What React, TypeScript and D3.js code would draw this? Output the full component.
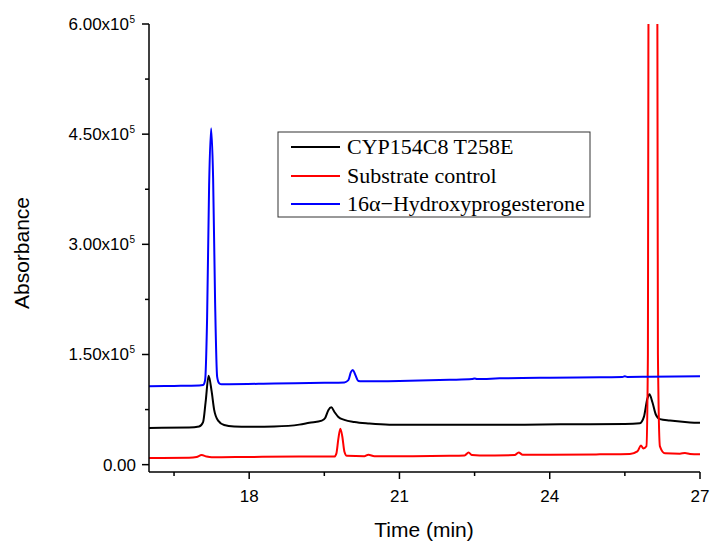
import React from "react";
import * as d3 from "d3";

// Time (min) / absorbance pairs
const blackSeries: [number, number][] = [
  [16.0, 50000], [16.8, 50500], [17.0, 52000], [17.08, 58000], [17.13, 85000],
  [17.19, 121000], [17.25, 100000], [17.3, 75000], [17.38, 60000], [17.5, 54000],
  [17.7, 52000], [18.0, 51500], [18.5, 52000], [19.0, 54500], [19.2, 57000],
  [19.45, 60000], [19.52, 64000], [19.58, 74000], [19.64, 78000], [19.7, 72000],
  [19.78, 65000], [19.9, 61000], [20.1, 58000], [20.4, 56000], [20.8, 54500],
  [21.5, 54200], [22.5, 54200], [23.5, 54500], [24.5, 55000], [25.5, 55500],
  [25.8, 56500], [25.88, 65000], [25.95, 90000], [25.99, 96000], [26.05, 85000],
  [26.12, 68000], [26.2, 62000], [26.4, 60000], [26.8, 57500], [27.0, 57000],
];

const redSeries: [number, number][] = [
  [16.0, 9000], [16.8, 9500], [16.95, 10500], [17.05, 13000], [17.15, 11000],
  [17.25, 10000], [18.0, 10500], [19.0, 11000], [19.7, 11000], [19.74, 15000],
  [19.78, 35000], [19.82, 49000], [19.86, 38000], [19.9, 18000], [19.95, 12000],
  [20.3, 11500], [20.38, 13500], [20.5, 11500], [21.0, 11500], [22.0, 12000],
  [22.3, 12500], [22.38, 16500], [22.45, 13000], [22.6, 12500], [23.3, 13000],
  [23.38, 16500], [23.46, 13500], [24.0, 13500], [25.0, 14000], [25.6, 14500],
  [25.75, 18000], [25.82, 26000], [25.87, 22000], [25.93, 25000], [25.96, 150000],
  [25.99, 1500000], [26.06, 3000000], [26.13, 1500000], [26.16, 150000], [26.2, 25000],
  [26.3, 15500], [26.6, 15000], [26.7, 15800], [26.8, 14500], [27.0, 14000],
];

const blueSeries: [number, number][] = [
  [16.0, 106800], [16.5, 107200], [17.0, 107800], [17.08, 108500], [17.12, 115000],
  [17.16, 200000], [17.2, 380000], [17.24, 458000], [17.28, 390000], [17.32, 220000],
  [17.36, 120000], [17.4, 111000], [17.45, 109500], [17.6, 109500], [18.5, 110500],
  [19.5, 111500], [19.9, 112000], [19.98, 115000], [20.03, 126000], [20.07, 129000],
  [20.12, 122000], [20.18, 114000], [20.25, 113500], [21.0, 114000], [22.0, 115500],
  [22.45, 116500], [22.5, 117300], [22.55, 116500], [23.0, 117500], [24.0, 118500],
  [25.0, 119000], [25.45, 119300], [25.5, 120300], [25.55, 119500], [26.0, 119800],
  [27.0, 120500],
];

const seriesNames = ["CYP154C8 T258E", "Substrate control", "16α−Hydroxyprogesterone"];
const seriesColors = ["#000000", "#ff0000", "#0000ff"];
const xTicks = [18, 21, 24, 27];
const xMinorTicks = [16.5, 19.5, 22.5, 25.5];
const yTicks = [0, 150000, 300000, 450000, 600000];
const yTickMantissa = ["0.00", "1.50", "3.00", "4.50", "6.00"];
const yMinorTicks = [75000, 225000, 375000, 525000];

export default function App() {
  const W = 713, H = 542;
  const left = 149, right = 700, top = 24, bottom = 472;
  const x = d3.scaleLinear().domain([16, 27]).range([left, right]);
  const y = d3.scaleLinear().domain([-10000, 600000]).range([bottom, top]);
  const line = d3
    .line<[number, number]>()
    .x((d) => x(d[0]))
    .y((d) => y(d[1]))
    .curve(d3.curveMonotoneX);
  const all = [blackSeries, redSeries, blueSeries];
  const sans = "'Liberation Sans', Arial, sans-serif";
  const serif = "'Liberation Serif', 'Times New Roman', serif";
  const legX = 278, legY = 132, legW = 312, legH = 85;
  const rowBase = [154, 183, 211];

  return (
    <svg width={W} height={H} style={{ position: "absolute", left: 0, top: 0, background: "#fff" }}>
      <defs>
        <clipPath id="plotClip">
          <rect x={left} y={top} width={right - left} height={bottom - top} />
        </clipPath>
      </defs>
      <g clipPath="url(#plotClip)">
        {all.map((s, i) => (
          <path key={i} d={line(s) || ""} fill="none" stroke={seriesColors[i]} strokeWidth={2} strokeLinejoin="round" />
        ))}
      </g>
      {/* axes */}
      <line x1={left} x2={left} y1={top} y2={bottom} stroke="#000" strokeWidth={1.5} />
      <line x1={left} x2={right} y1={bottom} y2={bottom} stroke="#000" strokeWidth={1.5} />
      {yTicks.map((v, i) => (
        <g key={"y" + i}>
          <line x1={left - 7} x2={left} y1={y(v)} y2={y(v)} stroke="#000" strokeWidth={1.5} />
          <text x={i === 0 ? 136 : 129} y={y(v) + 6} textAnchor="end" fontFamily={sans} fontSize={17} fill="#000">
            {i === 0 ? yTickMantissa[i] : yTickMantissa[i] + "x10"}
          </text>
          {i > 0 && (
            <text x={129.5} y={y(v) - 1} fontFamily={sans} fontSize={10} fill="#000">5</text>
          )}
        </g>
      ))}
      {yMinorTicks.map((v, i) => (
        <line key={"ym" + i} x1={left - 4} x2={left} y1={y(v)} y2={y(v)} stroke="#000" strokeWidth={1.5} />
      ))}
      {xTicks.map((v, i) => (
        <g key={"x" + i}>
          <line x1={x(v)} x2={x(v)} y1={bottom} y2={bottom + 7} stroke="#000" strokeWidth={1.5} />
          <text x={x(v)} y={502} textAnchor="middle" fontFamily={sans} fontSize={17} fill="#000">{v}</text>
        </g>
      ))}
      {xMinorTicks.map((v, i) => (
        <line key={"xm" + i} x1={x(v)} x2={x(v)} y1={bottom} y2={bottom + 4} stroke="#000" strokeWidth={1.5} />
      ))}
      <text x={424} y={537} textAnchor="middle" fontFamily={sans} fontSize={21} fill="#000">Time (min)</text>
      <text transform={`translate(29,253) rotate(-90)`} textAnchor="middle" fontFamily={sans} fontSize={21} fill="#000">Absorbance</text>
      {/* legend */}
      <rect x={legX} y={legY} width={legW} height={legH} fill="#fff" stroke="#333" strokeWidth={1} />
      {seriesNames.map((n, i) => (
        <g key={"l" + i}>
          <line x1={291} x2={340} y1={rowBase[i] - 7} y2={rowBase[i] - 7} stroke={seriesColors[i]} strokeWidth={2} />
          <text x={347} y={rowBase[i]} fontFamily={serif} fontSize={22} fill="#000">{n}</text>
        </g>
      ))}
    </svg>
  );
}
